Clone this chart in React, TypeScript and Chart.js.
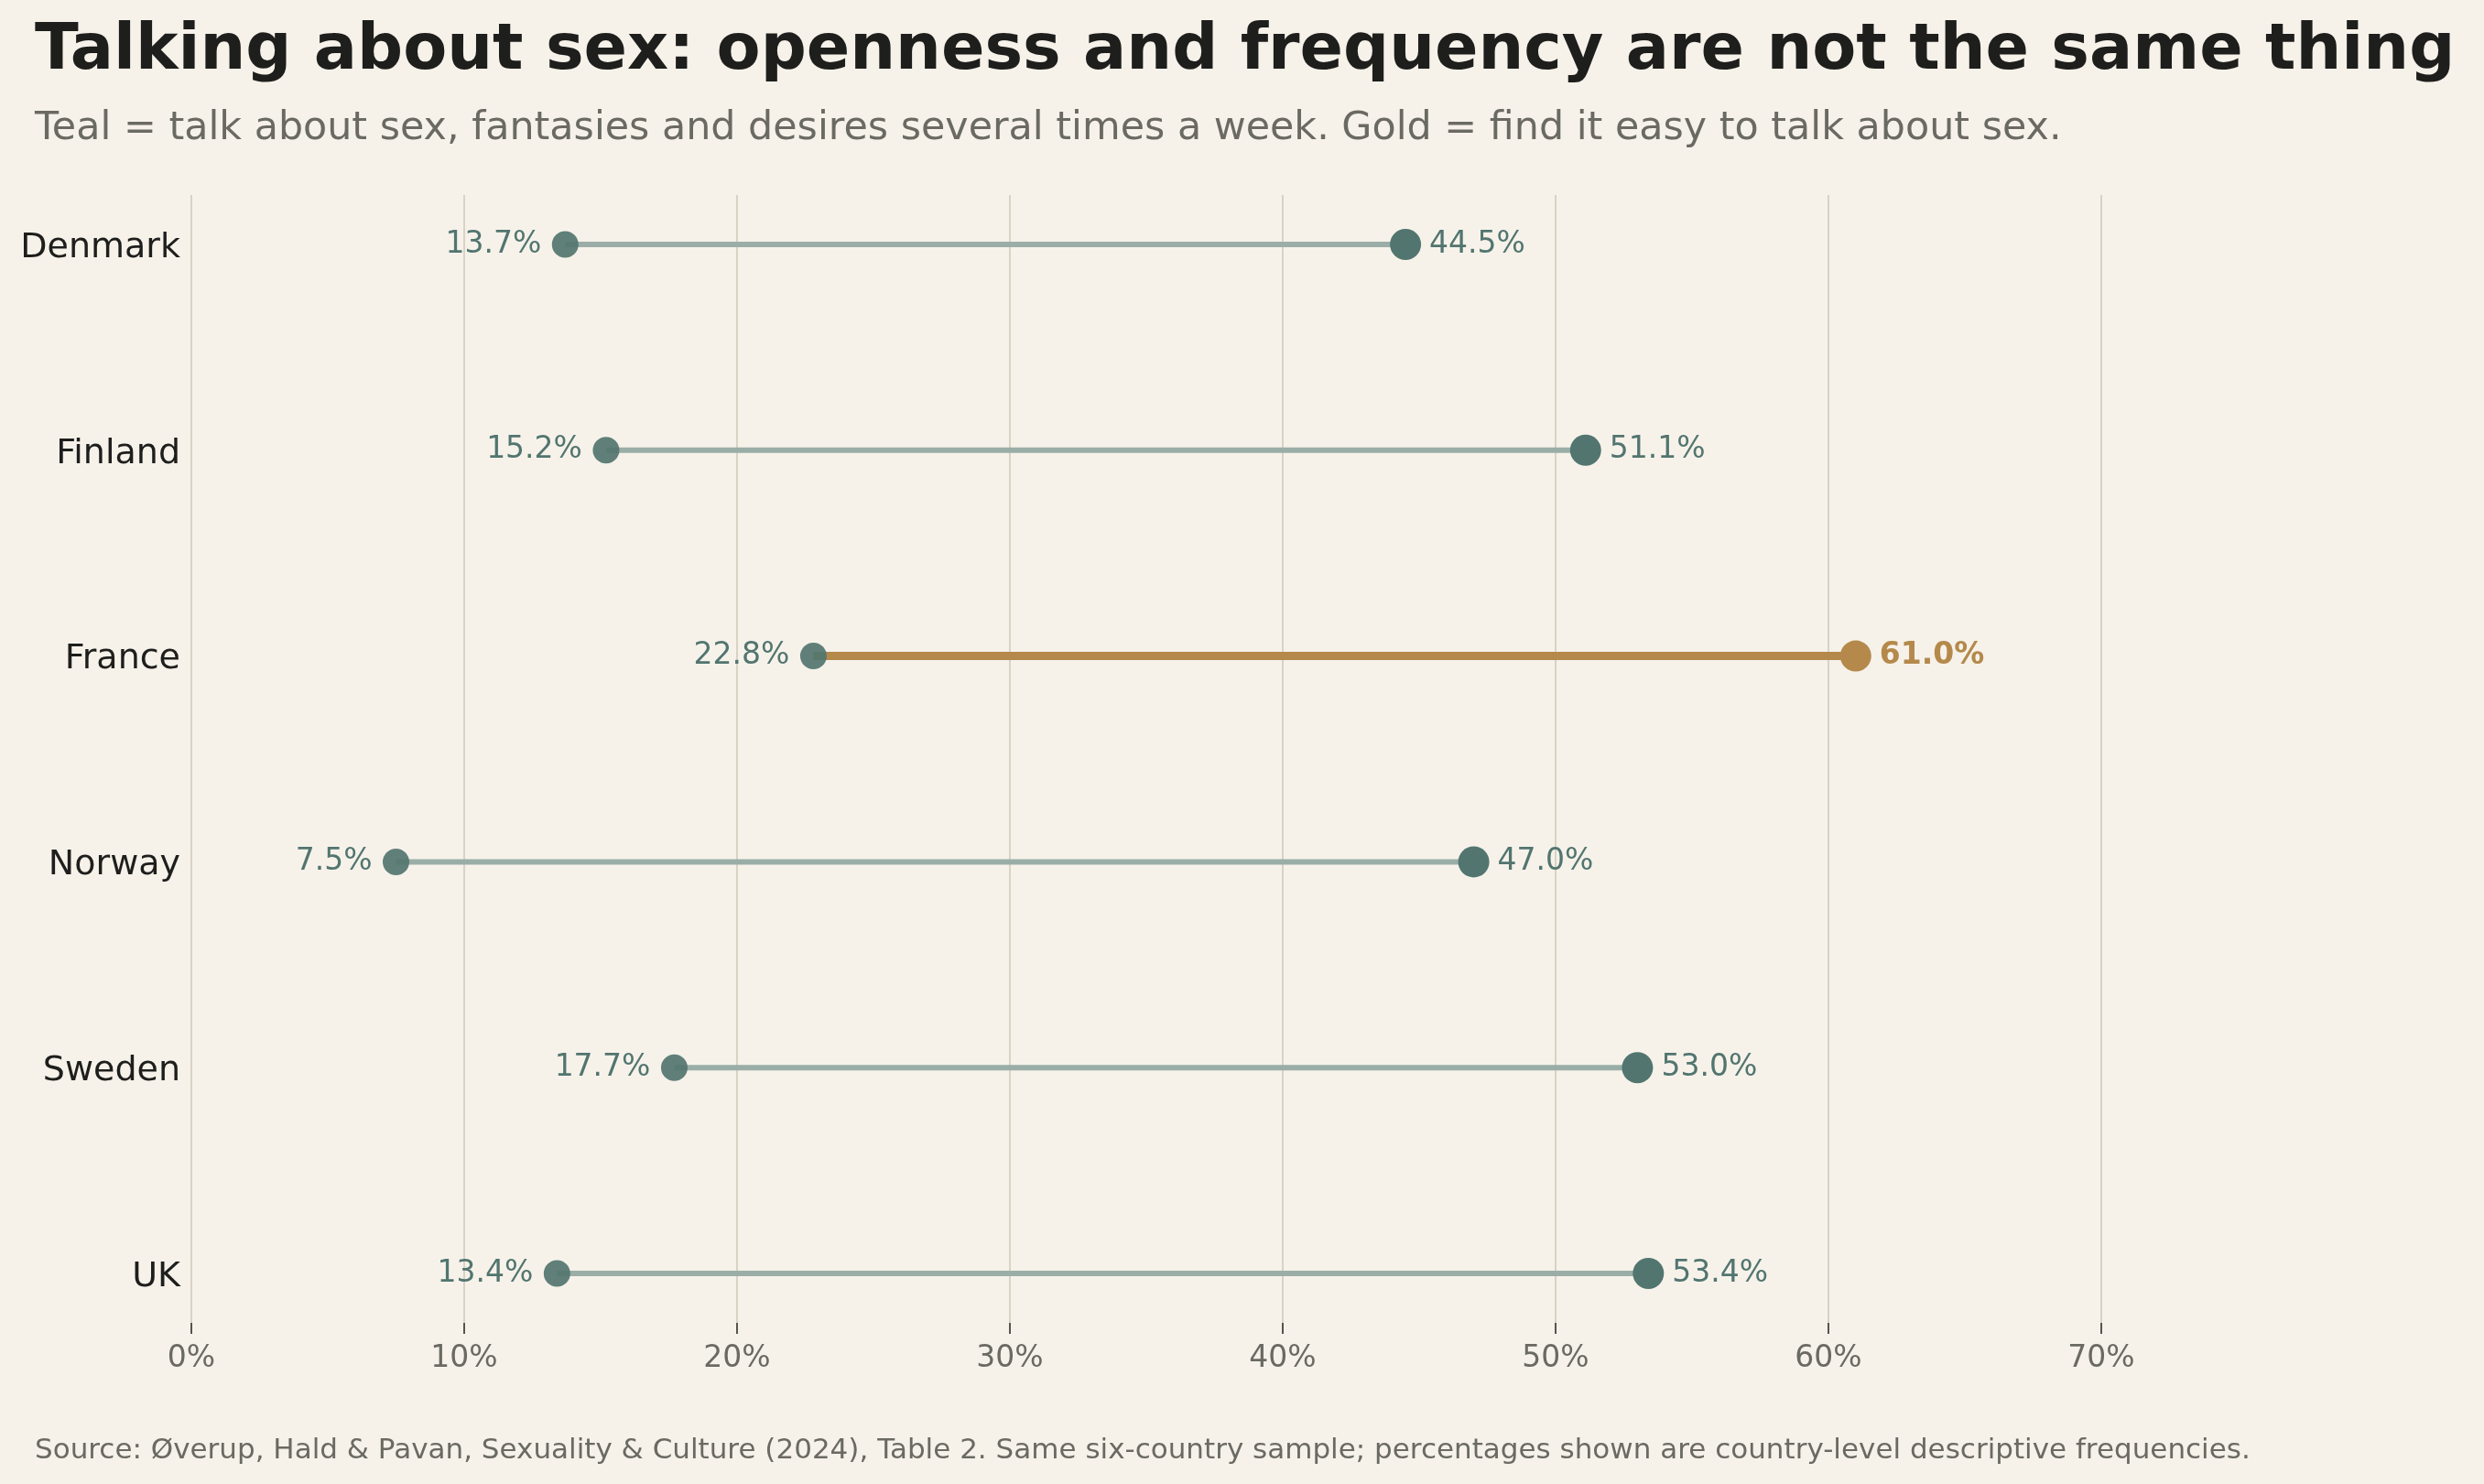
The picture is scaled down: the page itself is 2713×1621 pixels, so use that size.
import React, { useEffect, useRef } from 'react';
import { Chart, registerables } from 'chart.js';

Chart.register(...registerables);

// data
const countries = ['Denmark', 'Finland', 'France', 'Norway', 'Sweden', 'UK'];
const talkOften = [13.7, 15.2, 22.8, 7.5, 17.7, 13.4]; // teal, several times a week
const talkEasy = [44.5, 51.1, 61.0, 47.0, 53.0, 53.4]; // find it easy
const highlight = 'France';
const xTicks = [0, 10, 20, 30, 40, 50, 60, 70];

const TITLE = 'Talking about sex: openness and frequency are not the same thing';
const SUBTITLE = 'Teal = talk about sex, fantasies and desires several times a week. Gold = find it easy to talk about sex.';
const SOURCE = 'Source: Øverup, Hald & Pavan, Sexuality & Culture (2024), Table 2. Same six-country sample; percentages shown are country-level descriptive frequencies.';

const BG = '#f6f2ea';
const TEAL = '#52756f';
const TEAL_LINE = '#9aaea7';
const GOLD = '#b4894b';
const INK = '#1e1e1c';
const GREY = '#6b6a62';
const FONT = '"DejaVu Sans", sans-serif';

const textPlugin = {
  id: 'texts',
  beforeDraw(chart: any) {
    const { ctx } = chart;
    ctx.save();
    ctx.fillStyle = BG;
    ctx.fillRect(0, 0, chart.width, chart.height);
    ctx.textAlign = 'left';
    ctx.textBaseline = 'alphabetic';
    ctx.fillStyle = INK;
    ctx.font = `bold 70px ${FONT}`;
    ctx.fillText(TITLE, 38, 75);
    ctx.fillStyle = GREY;
    ctx.font = `42.8px ${FONT}`;
    ctx.fillText(SUBTITLE, 38, 152);
    ctx.font = `31px ${FONT}`;
    ctx.fillText(SOURCE, 38, 1593);
    ctx.restore();
  },
  afterDatasetsDraw(chart: any) {
    const { ctx } = chart;
    const xs = chart.scales.x;
    const ys = chart.scales.y;
    ctx.save();
    ctx.textBaseline = 'middle';
    countries.forEach((c, i) => {
      const y = ys.getPixelForValue(i);
      const hot = c === highlight;
      ctx.font = `33px ${FONT}`;
      ctx.fillStyle = TEAL;
      ctx.textAlign = 'right';
      ctx.fillText(talkOften[i].toFixed(1) + '%', xs.getPixelForValue(talkOften[i]) - 26, y);
      ctx.font = `${hot ? 'bold ' : ''}33px ${FONT}`;
      ctx.fillStyle = hot ? GOLD : TEAL;
      ctx.textAlign = 'left';
      ctx.fillText(talkEasy[i].toFixed(1) + '%', xs.getPixelForValue(talkEasy[i]) + 26, y);
    });
    ctx.restore();
  },
};

export default function App() {
  const canvasRef = useRef<HTMLCanvasElement>(null);

  useEffect(() => {
    const datasets = countries.map((c, i) => {
      const hot = c === highlight;
      return {
        label: c,
        data: [
          { x: talkOften[i], y: i },
          { x: talkEasy[i], y: i },
        ],
        borderColor: hot ? GOLD : TEAL_LINE,
        borderWidth: hot ? 9 : 6,
        pointRadius: [14.5, 17],
        pointBackgroundColor: ['rgba(82,117,111,0.92)', hot ? GOLD : TEAL],
        pointBorderWidth: 0,
        showLine: true,
      };
    });

    const chart = new Chart(canvasRef.current!, {
      type: 'scatter',
      data: { datasets },
      plugins: [textPlugin],
      options: {
        animation: false,
        responsive: true,
        maintainAspectRatio: false,
        devicePixelRatio: 1,
        layout: { padding: { top: 213, right: 418, bottom: 106, left: 0 } },
        plugins: { legend: { display: false }, tooltip: { enabled: false } },
        scales: {
          x: {
            type: 'linear',
            min: 0,
            max: 70,
            afterBuildTicks: (s: any) => {
              s.ticks = xTicks.map((v) => ({ value: v }));
            },
            afterFit: (s: any) => {
              s.height = 70;
            },
            border: { display: false },
            grid: {
              color: '#d7d3c5',
              lineWidth: 2,
              drawTicks: true,
              tickLength: 12,
              tickColor: '#55554f',
              tickWidth: 2,
            },
            ticks: {
              color: GREY,
              font: { family: FONT, size: 33 },
              padding: 8,
              callback: (v: any) => v + '%',
            },
          },
          y: {
            type: 'linear',
            min: -0.24,
            max: 5.24,
            reverse: true,
            afterBuildTicks: (s: any) => {
              s.ticks = countries.map((_, i) => ({ value: i }));
            },
            afterFit: (s: any) => {
              s.width = 209;
            },
            border: { display: false },
            grid: { display: false, drawTicks: false },
            ticks: {
              color: INK,
              font: { family: FONT, size: 38 },
              padding: 12,
              labelOffset: 4,
              callback: (v: any) => countries[v] ?? '',
            },
          },
        },
      },
    });
    return () => chart.destroy();
  }, []);

  return (
    <div style={{ position: 'fixed', inset: 0, background: BG }}>
      <canvas ref={canvasRef} />
    </div>
  );
}
